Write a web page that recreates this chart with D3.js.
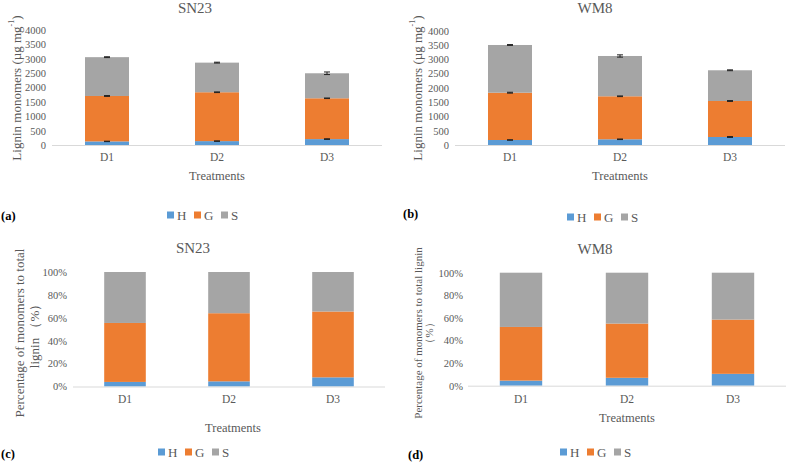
<!DOCTYPE html>
<html>
<head>
<meta charset="utf-8">
<script src="https://cdnjs.cloudflare.com/ajax/libs/d3/7.8.5/d3.min.js"></script>
<style>
  body { margin: 0; background: #fff; }
  text { font-family: "Liberation Serif", "Times New Roman", serif; }
</style>
</head>
<body>
<svg id="chart" width="787" height="462"></svg>
<script>
// categories and series
var treatments = ["D1", "D2", "D3"];
var series = ["H", "G", "S"];
var colors = ["#5B9BD5", "#ED7D31", "#A5A5A5"];

// (a) SN23 content, ug/mg
var sn23H = [125, 135, 205];
var sn23G = [1580, 1700, 1420];
var sn23S = [1350, 1030, 870];
var sn23ErrH = [8, 8, 12];
var sn23ErrG = [15, 12, 10];
var sn23ErrS = [15, 15, 45];

// (b) WM8 content, ug/mg
var wm8H = [175, 200, 280];
var wm8G = [1655, 1505, 1260];
var wm8S = [1670, 1410, 1075];
var wm8ErrH = [8, 10, 15];
var wm8ErrG = [15, 12, 15];
var wm8ErrS = [15, 40, 15];

// (c) SN23 percentage
var sn23PctH = [4, 4.5, 8];
var sn23PctG = [51.5, 59.5, 57.5];
var sn23PctS = [44.5, 36, 34.5];

// (d) WM8 percentage
var wm8PctH = [4.5, 7, 10.5];
var wm8PctG = [47.5, 48, 48];
var wm8PctS = [48, 45, 41.5];

var contentTicks = [0, 500, 1000, 1500, 2000, 2500, 3000, 3500, 4000];
var pctTicks = [0, 20, 40, 60, 80, 100];

var svg = d3.select("#chart");
var textColor = "#595959";

function drawPanel(p) {
    var g = svg.append("g");

    var x = d3.scaleBand().domain(treatments).range(p.xr).paddingInner(0.6).paddingOuter(0.3);
    var y = d3.scaleLinear().domain([0, p.max]).range(p.yr);

    var rows = treatments.map(function (t, i) {
        return { t: t, H: p.values[0][i], G: p.values[1][i], S: p.values[2][i] };
    });
    var stacked = d3.stack().keys(series)(rows);

    // y tick labels
    var yAxis = d3.axisLeft(y).tickValues(p.ticks).tickSize(0).tickPadding(0)
        .tickFormat(p.fmt);
    var ya = g.append("g").attr("transform", "translate(" + p.tickX + ",0)").call(yAxis);
    ya.select(".domain").remove();
    ya.selectAll("text").attr("fill", textColor).style("font-size", "10.5px")
        .style("font-family", "Liberation Serif");

    // stacked bars
    g.selectAll("g.layer").data(stacked).enter().append("g")
        .attr("class", "layer")
        .attr("fill", function (d, i) { return colors[i]; })
        .selectAll("rect").data(function (d) { return d; }).enter().append("rect")
        .attr("x", function (d) { return x(d.data.t); })
        .attr("width", x.bandwidth())
        .attr("y", function (d) { return y(d[1]); })
        .attr("height", function (d) { return y(d[0]) - y(d[1]); });

    // error bars at top of each segment
    if (p.errs) {
        stacked.forEach(function (layer, li) {
            layer.forEach(function (d, i) {
                var cx = x(d.data.t) + x.bandwidth() / 2;
                var e = p.errs[li][i];
                var eg = g.append("g").attr("stroke", "#222").attr("stroke-width", 1);
                eg.append("line").attr("x1", cx).attr("x2", cx)
                    .attr("y1", y(d[1] - e)).attr("y2", y(d[1] + e));
                eg.append("line").attr("x1", cx - 3).attr("x2", cx + 3)
                    .attr("y1", y(d[1] + e)).attr("y2", y(d[1] + e));
                eg.append("line").attr("x1", cx - 3).attr("x2", cx + 3)
                    .attr("y1", y(d[1] - e)).attr("y2", y(d[1] - e));
            });
        });
    }

    // x baseline + category labels
    var xAxis = d3.axisBottom(x).tickSize(0).tickPadding(0);
    var xa = g.append("g").attr("transform", "translate(0," + p.yr[0] + ")").call(xAxis);
    xa.select(".domain").remove();
    g.append("line").attr("x1", p.xr[0]).attr("x2", p.xr[1])
        .attr("y1", p.yr[0] + 0.5).attr("y2", p.yr[0] + 0.5)
        .attr("stroke", "#D9D9D9").attr("stroke-width", 1);
    xa.selectAll("text").attr("fill", textColor).style("font-size", "11.5px")
        .style("font-family", "Liberation Serif")
        .attr("dy", null).attr("y", p.catY - p.yr[0]).attr("dominant-baseline", "central");

    // title
    g.append("text").attr("x", p.titleX).attr("y", p.titleY)
        .attr("text-anchor", "middle").attr("dominant-baseline", "central")
        .attr("fill", textColor).style("font-size", "15px").text(p.title);

    // x title
    g.append("text").attr("x", p.xtX).attr("y", p.xtY)
        .attr("text-anchor", "middle").attr("dominant-baseline", "central")
        .attr("fill", textColor).style("font-size", "12.5px").text("Treatments");

    // y title
    p.ylabel(g);

    // legend
    var lg = g.append("g").attr("transform", "translate(" + p.legX + "," + p.legY + ")");
    series.forEach(function (s, i) {
        lg.append("rect").attr("x", i * 27).attr("y", -3.5).attr("width", 7).attr("height", 7)
            .attr("fill", colors[i]);
        lg.append("text").attr("x", i * 27 + 10).attr("y", 0).attr("dominant-baseline", "central")
            .attr("fill", textColor).style("font-size", "13px").text(s);
    });

    // panel tag
    g.append("text").attr("x", p.tagX).attr("y", p.tagY).attr("dominant-baseline", "central")
        .attr("fill", "#000").style("font-size", "12.5px").style("font-weight", "bold").text(p.tag);
}

function contentLabel(cx, cy) {
    return function (g) {
        var t = g.append("text").attr("transform", "translate(" + cx + "," + cy + ") rotate(-90)")
            .attr("text-anchor", "middle").attr("dominant-baseline", "central")
            .attr("fill", textColor).style("font-size", "13px");
        t.append("tspan").text("Lignin monomers (\u00b5g mg");
        t.append("tspan").attr("dy", -5).style("font-size", "8px").text("-1");
        t.append("tspan").attr("dy", 5).text(")");
    };
}

function pctLabel(cx, cy, lines, size, gap) {
    return function (g) {
        lines.forEach(function (l, i) {
            g.append("text").attr("transform", "translate(" + (cx + i * gap) + "," + cy + ") rotate(-90)")
                .attr("text-anchor", "middle").attr("dominant-baseline", "central")
                .attr("fill", textColor).style("font-size", size + "px").text(l);
        });
    };
}

var fmtNum = function (d) { return d; };
var fmtPct = function (d) { return d + "%"; };

drawPanel({
    xr: [52, 382], yr: [145, 30], max: 4000, ticks: contentTicks, fmt: fmtNum, tickX: 46,
    values: [sn23H, sn23G, sn23S], errs: [sn23ErrH, sn23ErrG, sn23ErrS],
    title: "SN23", titleX: 195, titleY: 8, catY: 157, xtX: 217, xtY: 176,
    ylabel: contentLabel(16, 88), legX: 167, legY: 215, tag: "(a)", tagX: 1, tagY: 216
});
drawPanel({
    xr: [455, 785], yr: [145, 30.7], max: 4000, ticks: contentTicks, fmt: fmtNum, tickX: 449,
    values: [wm8H, wm8G, wm8S], errs: [wm8ErrH, wm8ErrG, wm8ErrS],
    title: "WM8", titleX: 595, titleY: 8, catY: 157, xtX: 620, xtY: 176,
    ylabel: contentLabel(417, 88), legX: 567, legY: 217, tag: "(b)", tagX: 403, tagY: 214
});
drawPanel({
    xr: [73, 385], yr: [386.5, 272], max: 100, ticks: pctTicks, fmt: fmtPct, tickX: 67,
    values: [sn23PctH, sn23PctG, sn23PctS], errs: null,
    title: "SN23", titleX: 193, titleY: 248, catY: 399, xtX: 233, xtY: 428,
    ylabel: pctLabel(19, 333, ["Percentage of monomers to total", "lignin \uff08%\uff09"], 13, 15),
    legX: 158, legY: 452, tag: "(c)", tagX: 1, tagY: 454
});
drawPanel({
    xr: [468, 786], yr: [385.7, 272.7], max: 100, ticks: pctTicks, fmt: fmtPct, tickX: 463,
    values: [wm8PctH, wm8PctG, wm8PctS], errs: null,
    title: "WM8", titleX: 595, titleY: 249, catY: 399, xtX: 627, xtY: 418,
    ylabel: pctLabel(418, 333, ["Percentage of monomers to total lignin", "\uff08%\uff09"], 11, 11),
    legX: 560, legY: 452, tag: "(d)", tagX: 408, tagY: 455
});
</script>
</body>
</html>
